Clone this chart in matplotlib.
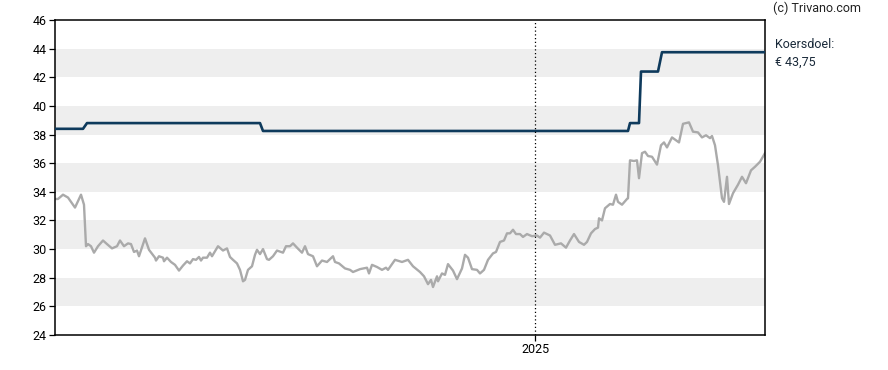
import matplotlib
matplotlib.use("Agg")
import matplotlib.pyplot as plt
import matplotlib.dates as mdates
import pandas as pd

plt.rcParams['font.family'] = ['Roboto', 'DejaVu Sans']

start = pd.Timestamp('2023-09-09')

# koers (dagen sinds start, slotkoers)
price_days = [0, 3, 8, 13, 20, 26, 29, 31, 33, 36, 39, 43, 48, 52, 57, 62, 65, 69, 73, 76,
              79, 82, 84, 90, 94, 100, 101, 104, 108, 109, 112, 116, 120, 124, 128, 132, 135, 138, 141, 144,
              146, 148, 152, 155, 157, 163, 168, 172, 175, 178, 182, 185, 188, 190, 193, 197, 200, 202, 205, 208,
              212, 214, 218, 222, 228, 231, 235, 238, 242, 247, 250, 253, 258, 262, 267, 272, 278, 280, 284, 290,
              295, 298, 305, 312, 314, 317, 322, 327, 331, 333, 340, 347, 353, 358, 365, 369, 373, 376, 378, 382,
              383, 387, 390, 393, 398, 402, 407, 410, 413, 417, 422, 425, 429, 433, 438, 441, 445, 449, 452, 455,
              458, 461, 465, 468, 472, 477, 482, 485, 489, 495, 500, 506, 511, 515, 519, 524, 529, 532, 536, 540,
              543, 544, 547, 550, 555, 558, 561, 563, 567, 572, 573, 575, 579, 582, 584, 587, 590, 593, 597, 602,
              606, 609, 612, 617, 620, 624, 628, 634, 638, 643, 647, 651, 655, 657, 660, 663, 667, 669, 672, 674,
              678, 683, 687, 691, 696, 700, 705, 710]
price_vals = [33.5, 33.5, 33.8, 33.6, 32.9, 33.8, 33.1, 30.2, 30.35, 30.2, 29.75, 30.2, 30.6, 30.35, 30.05, 30.2, 30.6, 30.2, 30.4, 30.35,
              29.8, 29.9, 29.5, 30.75, 29.95, 29.4, 29.2, 29.5, 29.4, 29.15, 29.4, 29.1, 28.9, 28.5, 28.85, 29.15, 29.0, 29.3, 29.25, 29.45,
              29.2, 29.4, 29.4, 29.75, 29.5, 30.2, 29.9, 30.05, 29.45, 29.25, 29.0, 28.55, 27.75, 27.85, 28.55, 28.8, 29.6, 29.95, 29.65, 30.0,
              29.3, 29.25, 29.5, 29.9, 29.75, 30.2, 30.2, 30.4, 30.1, 29.75, 30.2, 29.65, 29.5, 28.8, 29.2, 29.1, 29.5, 29.1, 29.0, 28.65,
              28.55, 28.4, 28.6, 28.7, 28.3, 28.9, 28.75, 28.55, 28.7, 28.55, 29.25, 29.1, 29.25, 28.8, 28.4, 28.1, 27.55, 27.85, 27.35, 28.1,
              27.75, 28.3, 28.2, 28.95, 28.5, 27.9, 28.65, 29.6, 29.4, 28.6, 28.55, 28.3, 28.55, 29.25, 29.7, 29.8, 30.5, 30.6, 31.1, 31.1,
              31.35, 31.05, 31.05, 30.85, 31.05, 30.9, 30.95, 30.8, 31.15, 30.95, 30.3, 30.4, 30.1, 30.6, 31.05, 30.5, 30.3, 30.5, 31.1, 31.4,
              31.5, 32.15, 32.0, 32.85, 33.15, 33.1, 33.8, 33.3, 33.1, 33.5, 33.55, 36.2, 36.15, 36.2, 34.95, 36.7, 36.8, 36.5, 36.45, 35.9,
              37.25, 37.45, 37.1, 37.8, 37.65, 37.45, 38.75, 38.85, 38.2, 38.15, 37.8, 37.95, 37.75, 37.9, 37.25, 35.85, 33.55, 33.3, 35.05, 33.15,
              33.9, 34.5, 35.05, 34.6, 35.5, 35.75, 36.1, 36.7]

# koersdoel
target_days = [0, 28, 32, 205, 208, 573, 575, 584, 586, 603, 607, 710]
target_vals = [38.4, 38.4, 38.8, 38.8, 38.25, 38.25, 38.8, 38.8, 42.4, 42.4, 43.75, 43.75]

y_ticks = [24, 26, 28, 30, 32, 34, 36, 38, 40, 42, 44, 46]
year_mark = pd.Timestamp('2025-01-01')

price_dates = start + pd.to_timedelta(price_days, unit='D')
target_dates = start + pd.to_timedelta(target_days, unit='D')

fig = plt.figure(figsize=(8.88, 3.70), dpi=100)
ax = fig.add_axes([55 / 888, 35 / 370, 710 / 888, 315 / 370])

for i in range(1, len(y_ticks) - 1, 2):
    ax.axhspan(y_ticks[i], y_ticks[i + 1], color='#eeeeee', lw=0, zorder=0)

ax.plot(price_dates, price_vals, color='#aaaaaa', lw=1.7, zorder=2)
ax.plot(target_dates, target_vals, color='#0e3a5c', lw=1.9, zorder=3)
ax.axvline(year_mark, color='black', lw=0.9, ls=(0, (1, 2)), zorder=4)

ax.set_xlim(start, start + pd.Timedelta(days=710))
ax.set_ylim(24, 46)
ax.set_yticks(y_ticks)
ax.set_xticks([year_mark])
ax.xaxis.set_major_formatter(mdates.DateFormatter('%Y'))
ax.tick_params(axis='both', labelsize=9, length=4, width=0.9, colors='black', pad=2)
for s in ax.spines.values():
    s.set_linewidth(1.1)
    s.set_color('black')

fig.text(773 / 888, 1 - 8 / 370, '(c) Trivano.com', fontsize=9, va='center', ha='left', color='#222222')
fig.text(775 / 888, 1 - 44 / 370, 'Koersdoel:', fontsize=9, va='center', ha='left', color='#1a2a3a')
fig.text(775 / 888, 1 - 62 / 370, '€ 43,75', fontsize=9, va='center', ha='left', color='#1a2a3a')

fig.savefig('out.png', dpi=100)
